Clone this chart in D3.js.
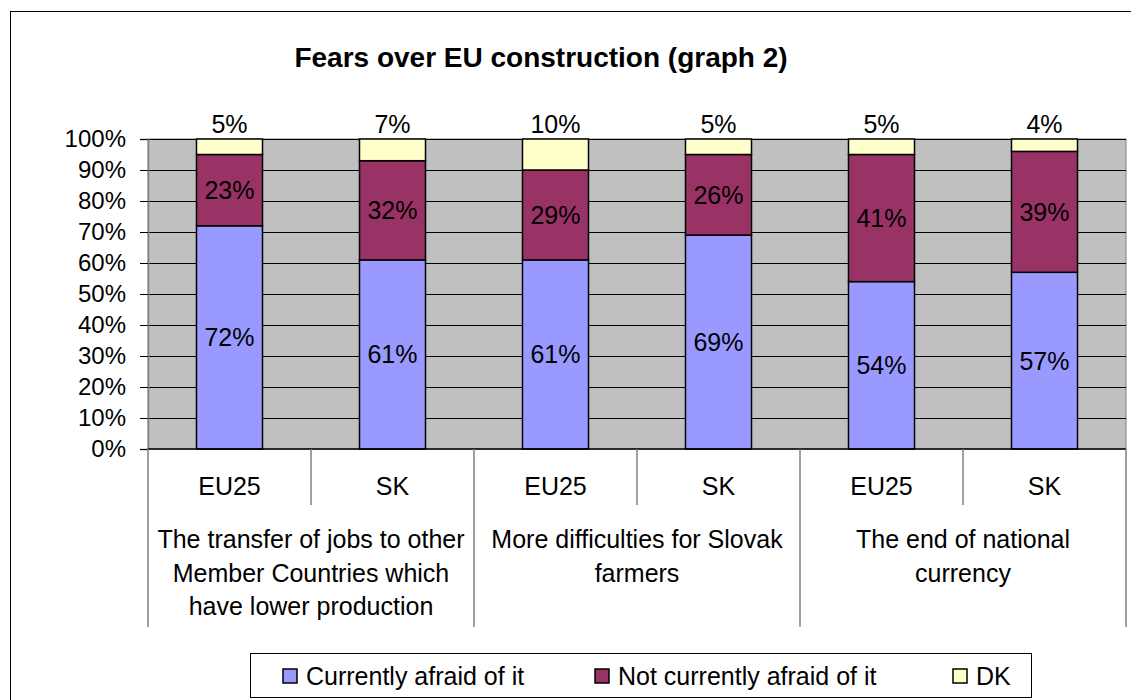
<!DOCTYPE html>
<html>
<head>
<meta charset="utf-8">
<script src="https://cdn.jsdelivr.net/npm/d3@7"></script>
<style>
	body { margin: 0; background: #fff; }
	svg { display: block; font-family: "Liberation Sans", Arial, sans-serif; }
</style>
</head>
<body>
<svg id="chart" width="1131" height="700"></svg>
<script>
var groupLabels = [
	["The transfer of jobs to other", "Member Countries which", "have lower production"],
	["More difficulties for Slovak", "farmers"],
	["The end of national", "currency"]
];
var subLabels = ["EU25", "SK", "EU25", "SK", "EU25", "SK"];
var afraid = [72, 61, 61, 69, 54, 57];
var notAfraid = [23, 32, 29, 26, 41, 39];
var dk = [5, 7, 10, 5, 5, 4];
var yTicks = [0, 10, 20, 30, 40, 50, 60, 70, 80, 90, 100];

var seriesNames = ["Currently afraid of it", "Not currently afraid of it", "DK"];
var colors = ["#9999ff", "#993366", "#ffffcc"];

var svg = d3.select("#chart");

// outer chart frame (runs off the right/bottom edge)
svg.append("rect")
	.attr("x", 10.5).attr("y", 11.5)
	.attr("width", 1140).attr("height", 700)
	.attr("fill", "none").attr("stroke", "#000");

svg.append("text")
	.attr("x", 541).attr("y", 67)
	.attr("text-anchor", "middle")
	.style("font-size", "28px").style("font-weight", "bold")
	.text("Fears over EU construction (graph 2)");

var plotL = 148, plotR = 1126, plotT = 139, plotB = 449;

var x = d3.scaleBand()
	.domain(d3.range(subLabels.length))
	.range([plotL, plotR])
	.paddingInner(0.595)
	.paddingOuter(0.2975);

var y = d3.scaleLinear().domain([0, 100]).range([plotB, plotT]);

// plot area
svg.append("rect")
	.attr("x", plotL).attr("y", plotT)
	.attr("width", plotR - plotL).attr("height", plotB - plotT)
	.attr("fill", "#c0c0c0").attr("stroke", "#808080");

svg.append("g")
	.selectAll("line")
	.data(yTicks.filter(d => d > 0))
	.enter()
	.append("line")
	.attr("x1", plotL).attr("x2", plotR)
	.attr("y1", d => Math.round(y(d)) + 0.5)
	.attr("y2", d => Math.round(y(d)) + 0.5)
	.attr("stroke", "#000");

var yAxis = svg.append("g")
	.attr("transform", "translate(" + plotL + ",0)")
	.call(d3.axisLeft(y).tickValues(yTicks).tickSize(8).tickPadding(14).tickFormat(d => d + "%"));
yAxis.select(".domain").attr("stroke", "#808080").attr("stroke-width", 1.5);
yAxis.selectAll(".tick line").attr("stroke", "#000");
yAxis.selectAll(".tick text")
	.style("font-size", "24px").style("font-family", "Liberation Sans, Arial, sans-serif")
	.attr("fill", "#000");

// stacked bars
var rows = subLabels.map(function(s, i) {
	return [afraid[i], notAfraid[i], dk[i]];
});
var bars = svg.append("g");
rows.forEach(function(vals, i) {
	var base = 0;
	vals.forEach(function(v, k) {
		bars.append("rect")
			.attr("x", x(i)).attr("width", x.bandwidth())
			.attr("y", y(base + v)).attr("height", y(base) - y(base + v))
			.attr("fill", colors[k])
			.attr("stroke", "#000").attr("stroke-width", 1.5);
		var ty = k < 2 ? (y(base) + y(base + v)) / 2 : y(base + v) - 6;
		bars.append("text")
			.attr("x", x(i) + x.bandwidth() / 2)
			.attr("y", ty)
			.attr("dy", k < 2 ? "0.36em" : 0)
			.attr("text-anchor", "middle")
			.style("font-size", "25px")
			.text(v + "%");
		base += v;
	});
});

// category axis
var step = x.step();
var xAxis = svg.append("g").attr("stroke", "#808080").attr("stroke-width", 1.5);
xAxis.append("line")
	.attr("x1", plotL).attr("x2", plotR)
	.attr("y1", plotB).attr("y2", plotB)
	.attr("stroke", "#000");
d3.range(subLabels.length + 1).forEach(function(i) {
	var xx = plotL + i * step;
	xAxis.append("line")
		.attr("x1", xx).attr("x2", xx)
		.attr("y1", plotB)
		.attr("y2", i % 2 == 0 ? 627 : 505);
});

svg.append("g")
	.selectAll("text")
	.data(subLabels)
	.enter()
	.append("text")
	.attr("x", (d, i) => x(i) + x.bandwidth() / 2)
	.attr("y", 495)
	.attr("text-anchor", "middle")
	.style("font-size", "25px")
	.text(d => d);

groupLabels.forEach(function(lines, g) {
	var cx = plotL + (g * 2 + 1) * step;
	var t = svg.append("text")
		.attr("text-anchor", "middle")
		.style("font-size", "25px");
	lines.forEach(function(line, j) {
		t.append("tspan")
			.attr("x", cx)
			.attr("y", 548 + j * 33.5)
			.text(line);
	});
});

// legend
svg.append("rect")
	.attr("x", 250.5).attr("y", 653.5)
	.attr("width", 781).attr("height", 44)
	.attr("fill", "#fff").attr("stroke", "#000");

var legendX = [283, 595, 953];
seriesNames.forEach(function(name, k) {
	svg.append("rect")
		.attr("x", legendX[k]).attr("y", 669)
		.attr("width", 14).attr("height", 14)
		.attr("fill", colors[k]).attr("stroke", "#000").attr("stroke-width", 1.5);
	svg.append("text")
		.attr("x", legendX[k] + 23).attr("y", 685)
		.style("font-size", "25px")
		.text(name);
});
</script>
</body>
</html>
